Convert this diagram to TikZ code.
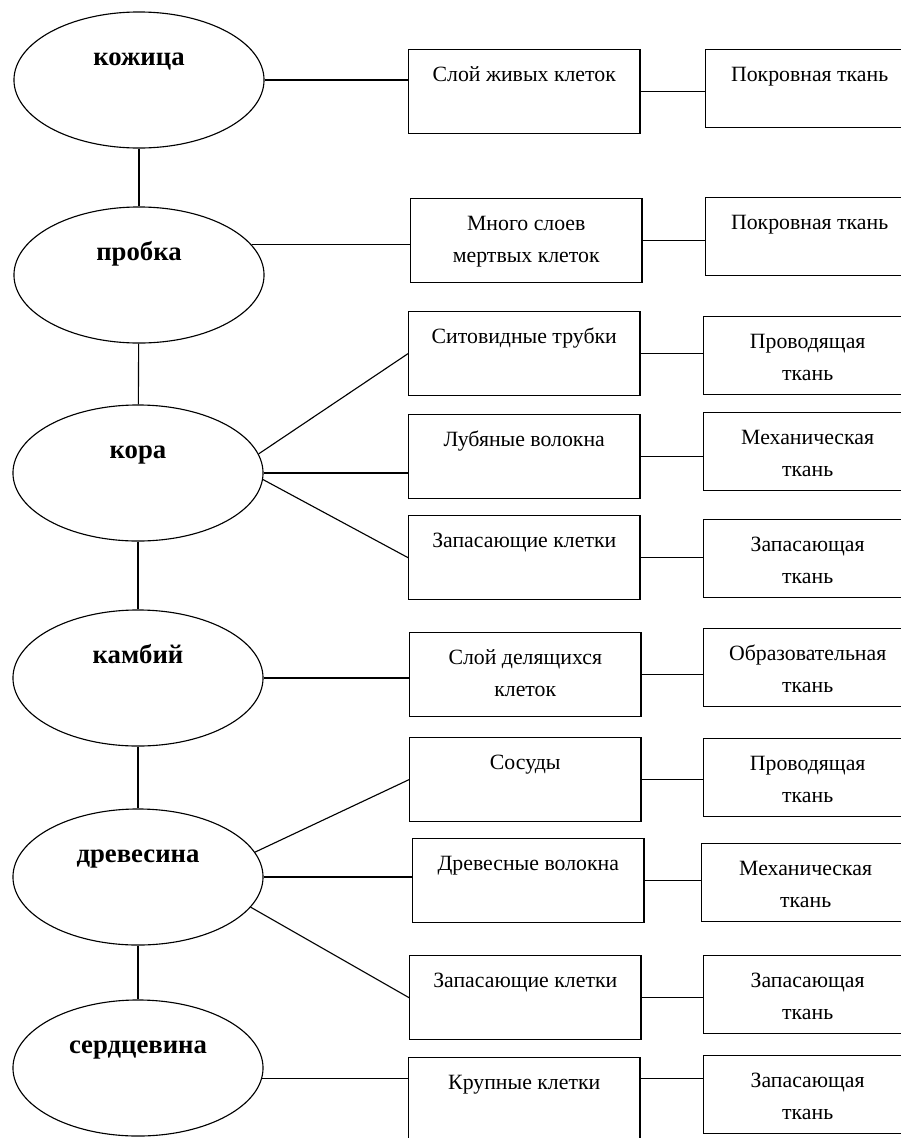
\documentclass[tikz,border=0pt]{standalone}
\usepackage{fontspec}
\setmainfont{Liberation Serif}
\usepackage{tikz}
\usetikzlibrary{
    shapes.geometric,
    positioning
}
\newcommand{\partfont}{\fontsize{19}{22}\selectfont\bfseries}
\newcommand{\cellfont}{\fontsize{15.5}{22.5}\selectfont}
\newcommand{\midcell}[1]{\parbox[c][2.1cm][t]{5.78cm}{\centering\rule{0pt}{0.8cm}#1}}
\newcommand{\tiscell}[1]{\parbox[c][1.95cm][t]{5.2cm}{\centering\rule{0pt}{0.8cm}#1}}

\begin{document}
\begin{tikzpicture}[
  x=0.025cm, y=-0.025cm,
  part/.style={draw, ellipse, line width=0.8pt, minimum width=6.25cm, minimum height=3.4cm,
    inner sep=0pt, text height=13pt, text depth=34pt, font=\partfont},
  cell/.style={draw, rectangle, inner sep=0pt, anchor=north west, line width=0.9pt, font=\cellfont},
  link/.style={line width=0.8pt}
]
\path[use as bounding box, clip] (0,0) rectangle (901,1138);

% parts of the stem
\node[part] (kozh)   at (139,80)   {кожица};
\node[part] (probka) at (139,275)  {пробка};
\node[part] (kora)   at (138,473)  {кора};
\node[part] (kamb)   at (138,678)  {камбий};
\node[part] (drev)   at (138,877)  {древесина};
\node[part] (serd)   at (138,1068) {сердцевина};

% cells
\node[cell] (sloj)  at (408,49)   {\midcell{Слой живых клеток}};
\node[cell] (mnogo) at (410,198)  {\midcell{Много слоев\\мертвых клеток}};
\node[cell] (sito)  at (408,311)  {\midcell{Ситовидные трубки}};
\node[cell] (lub)   at (408,414)  {\midcell{Лубяные волокна}};
\node[cell] (zap1)  at (408,515)  {\midcell{Запасающие клетки}};
\node[cell] (del)   at (409,632)  {\midcell{Слой делящихся\\клеток}};
\node[cell] (sos)   at (409,737)  {\midcell{Сосуды}};
\node[cell] (dvol)  at (412,838)  {\midcell{Древесные волокна}};
\node[cell] (zap2)  at (409,955)  {\midcell{Запасающие клетки}};
\node[cell] (krup)  at (408,1057) {\midcell{Крупные клетки}};

% tissues
\node[cell] (pokr1) at (705,49)   {\tiscell{Покровная ткань}};
\node[cell] (pokr2) at (705,197)  {\tiscell{Покровная ткань}};
\node[cell] (prov1) at (703,316)  {\tiscell{Проводящая\\ткань}};
\node[cell] (mech1) at (703,412)  {\tiscell{Механическая\\ткань}};
\node[cell] (zapt1) at (703,519)  {\tiscell{Запасающая\\ткань}};
\node[cell] (obr)   at (703,628)  {\tiscell{Образовательная\\ткань}};
\node[cell] (prov2) at (703,738)  {\tiscell{Проводящая\\ткань}};
\node[cell] (mech2) at (701,843)  {\tiscell{Механическая\\ткань}};
\node[cell] (zapt2) at (703,955)  {\tiscell{Запасающая\\ткань}};
\node[cell] (zapt3) at (703,1055) {\tiscell{Запасающая\\ткань}};

% stem column
\draw[link] (kozh)   -- (probka);
\draw[link] (probka) -- (kora);
\draw[link] (kora)   -- (kamb);
\draw[link] (kamb)   -- (drev);
\draw[link] (drev)   -- (serd);

% parts to cells
\draw[link] (kozh.east)   -- (kozh.east -| sloj.west);
\draw[link] (probka.15)   -- (probka.15 -| mnogo.west);
\draw[link] (kora.9)      -- (sito.west);
\draw[link] (kora.east)   -- (kora.east -| lub.west);
\draw[link] (kora.-3)     -- (zap1.west);
\draw[link] (kamb.east)   -- (kamb.east -| del.west);
\draw[link] (drev.12)     -- (sos.west);
\draw[link] (drev.east)   -- (drev.east -| dvol.west);
\draw[link] (drev.-15)    -- (zap2.west);
\draw[link] (serd.-5)     -- (serd.-5 -| krup.west);

% cells to tissues
\foreach \a/\b in {sloj/pokr1, mnogo/pokr2, sito/prov1, lub/mech1, zap1/zapt1,
                   del/obr, sos/prov2, dvol/mech2, zap2/zapt2}
  \draw[link] (\a.east) -- (\a.east -| \b.west);
\draw[link] (krup.east |- serd.-5) -- (zapt3.west |- serd.-5);

\end{tikzpicture}
\end{document}
